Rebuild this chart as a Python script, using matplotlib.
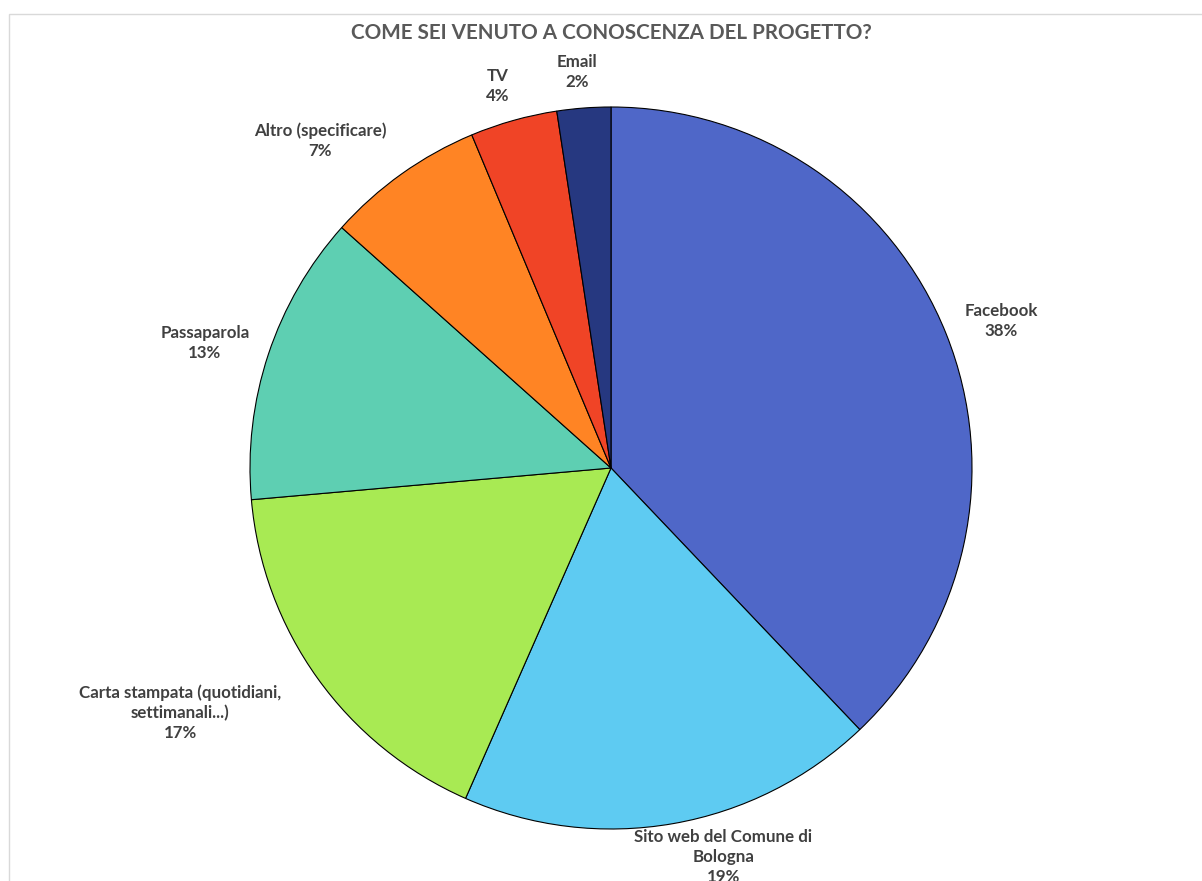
import matplotlib
matplotlib.use('Agg')
import matplotlib.pyplot as plt
from matplotlib.patches import Rectangle
import numpy as np

# data
categories = ['Facebook', 'Sito web del Comune di\nBologna',
              'Carta stampata (quotidiani,\nsettimanali...)', 'Passaparola',
              'Altro (specificare)', 'TV', 'Email']
shares = [37.9, 18.7, 17.0, 13.0, 7.1, 3.9, 2.4]
colors = ['#4F67C8', '#5ECBF2', '#A8EA53', '#5ECFB2', '#FF8424', '#F04426', '#263880']

# label placement (style): distance from centre in radii, angular shift (deg, clockwise)
label_r = [1.155, 1.122, 1.373, 1.177, 1.212, 1.104, 1.101]
label_shift = [1.1, -6.2, 6.0, -1.3, -6.2, -0.9, -0.6]

W, H = 1202, 881
fig = plt.figure(figsize=(W / 100, H / 100), dpi=100)
plt.rcParams['font.family'] = ['Lato', 'DejaVu Sans']

# light frame of the chart area
fig.patches.append(Rectangle((9 / W, -0.1), 1.2, 1 - 14 / H + 0.1, transform=fig.transFigure,
                             fill=False, edgecolor='#D9D9D9', linewidth=1.0))

cx, cy, r = 611, 468, 361
ax = fig.add_axes([(cx - r) / W, (H - cy - r) / H, 2 * r / W, 2 * r / H])
wedges, _ = ax.pie(shares, colors=colors, startangle=90, counterclock=False, radius=1,
                   wedgeprops=dict(edgecolor='black', linewidth=0.8))
ax.set_xlim(-1, 1)
ax.set_ylim(-1, 1)
ax.set_aspect('equal')
ax.axis('off')

total = sum(shares)
for w, name, v, d, s in zip(wedges, categories, shares, label_r, label_shift):
    mid = (w.theta1 + w.theta2) / 2 - s
    x = d * np.cos(np.radians(mid))
    y = d * np.sin(np.radians(mid))
    ax.text(x, y, '%s\n%d%%' % (name, round(v / total * 100)), ha='center', va='center',
            fontsize=12.2, fontweight='bold', color='#404040', linespacing=1.3, clip_on=False)

fig.text(611 / W, 1 - 33 / H, 'COME SEI VENUTO A CONOSCENZA DEL PROGETTO?', ha='center',
         va='center', fontsize=14.9, fontweight='bold', color='#595959')

fig.savefig('out.png', dpi=100)
